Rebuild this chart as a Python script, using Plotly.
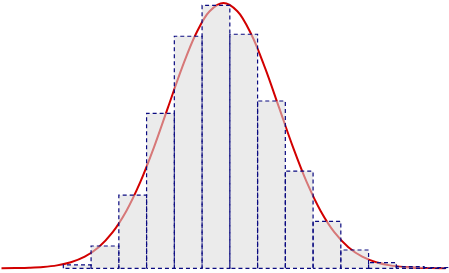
import plotly.graph_objects as go

# Histogram (density)
bin_start = -2.886
bin_width = 0.5
densities = [0.005, 0.0335, 0.110, 0.233, 0.349, 0.3955, 0.352,
             0.2516, 0.146, 0.0707, 0.0275, 0.0084, 0.0024, 0.0012]

# Fitted curve, values
curve_x = [-4.0, -3.75, -3.5, -3.25, -3.0, -2.75, -2.5, -2.25, -2.0, -1.75,
           -1.5, -1.25, -1.0, -0.75, -0.5, -0.25, 0.0, 0.25, 0.5, 0.75,
           1.0, 1.25, 1.5, 1.75, 2.0, 2.25, 2.5, 2.75, 3.0, 3.25, 3.5, 3.75, 4.0]
curve_y = [0.0001, 0.0004, 0.0009, 0.0020, 0.0044, 0.0091, 0.0175, 0.0317,
           0.0540, 0.0863, 0.1295, 0.1826, 0.2420, 0.3011, 0.3521, 0.3867,
           0.3989, 0.3867, 0.3521, 0.3011, 0.2420, 0.1826, 0.1295, 0.0863,
           0.0540, 0.0317, 0.0175, 0.0091, 0.0044, 0.0020, 0.0009, 0.0004, 0.0001]

fig = go.Figure()

fig.add_trace(go.Scatter(
    x=curve_x, y=curve_y, mode="lines", line_shape="spline",
    line=dict(color="rgb(210,0,0)", width=2), hoverinfo="skip",
))

bx, by = [], []
for i, d in enumerate(densities):
    left = bin_start + i * bin_width
    right = left + bin_width
    bx += [left, left, right, right, left, None]
    by += [0, d, d, 0, 0, None]

fig.add_trace(go.Scatter(
    x=bx, y=by, mode="lines", fill="toself",
    fillcolor="rgba(218,218,218,0.55)",
    line=dict(color="#0a0a80", width=1.2, dash="4px,3px"),
    hoverinfo="skip",
))

fig.update_layout(
    width=449, height=273,
    margin=dict(l=0, r=0, t=0, b=0),
    paper_bgcolor="white", plot_bgcolor="white",
    showlegend=False,
    xaxis=dict(range=[-4.027, 4.063], visible=False, showgrid=False, zeroline=False),
    yaxis=dict(range=[-0.00707, 0.4035], visible=False, showgrid=False, zeroline=False),
)

fig.write_html("out.html")
